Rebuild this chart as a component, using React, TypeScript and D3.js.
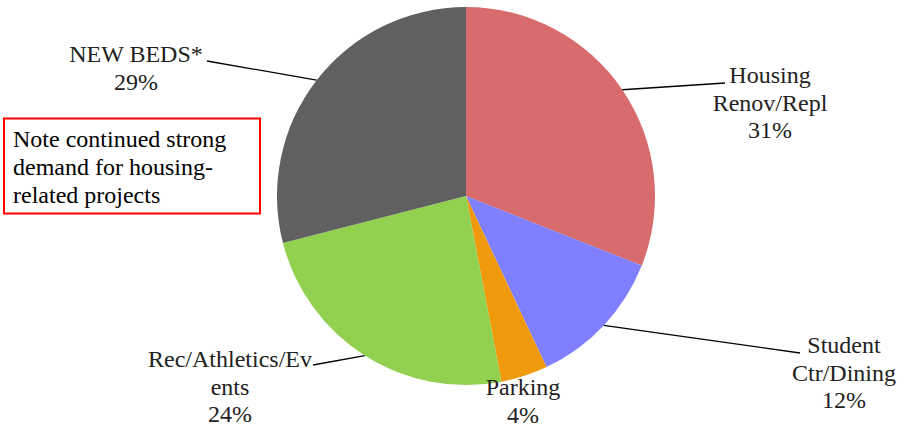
import React from "react";
import * as d3 from "d3";

const categories = ["Housing\nRenov/Repl", "Student\nCtr/Dining", "Parking", "Rec/Athletics/Ev\nents", "NEW BEDS*"];
const values = [31, 12, 4, 24, 29];
const colors = ["#D86B6B", "#7F7FFF", "#EE9A0C", "#92D14F", "#606060"];
const noteLines = ["Note continued strong", "demand for housing-", "related projects"];

// label layout: text center x, first baseline y, leader end point (null = no leader)
const labelLayout = [
  { cx: 770, y: 83, lx: 725, ly: 83 },
  { cx: 844, y: 353, lx: 800, ly: 353 },
  { cx: 523, y: 395, lx: null, ly: null },
  { cx: 230, y: 367, lx: 313, ly: 365 },
  { cx: 136, y: 62, lx: 207, ly: 61 },
];

const W = 902;
const H = 430;
const CX = 466;
const CY = 196;
const R = 189;
const LINE_H = 27.6;
const FONT = "Liberation Serif";

export default function App() {
  const pie = d3.pie<number>().sort(null).value((d) => d);
  const arcs = pie(values);
  const arc = d3.arc<d3.PieArcDatum<number>>().innerRadius(0).outerRadius(R);
  const outer = d3.arc<d3.PieArcDatum<number>>().innerRadius(R).outerRadius(R);

  return (
    <svg width={W} height={H} style={{ position: "absolute", left: 0, top: 0, background: "#fff" }}>
      <rect x={0} y={0} width={W} height={H} fill="#fff" />
      <g transform={`translate(${CX},${CY})`}>
        {arcs.map((a, i) => (
          <path key={i} d={arc(a) || ""} fill={colors[i]} />
        ))}
      </g>
      {arcs.map((a, i) => {
        const L = labelLayout[i];
        const [mx, my] = outer.centroid(a);
        const lines = [...categories[i].split("\n"), `${values[i]}%`];
        return (
          <g key={i}>
            {L.lx !== null && (
              <line x1={CX + mx} y1={CY + my} x2={L.lx} y2={L.ly!} stroke="#000" strokeWidth={1.3} />
            )}
            <text fontFamily={FONT} fontSize={24} fill="#222" textAnchor="middle">
              {lines.map((t, j) => (
                <tspan key={j} x={L.cx} y={L.y + j * LINE_H}>
                  {t}
                </tspan>
              ))}
            </text>
          </g>
        );
      })}
      <rect x={4} y={118.5} width={256} height={95} fill="#fff" stroke="#FF0000" strokeWidth={2} />
      <text fontFamily={FONT} fontSize={24} fill="#000">
        {noteLines.map((t, j) => (
          <tspan key={j} x={13} y={147 + j * 28}>
            {t}
          </tspan>
        ))}
      </text>
    </svg>
  );
}
